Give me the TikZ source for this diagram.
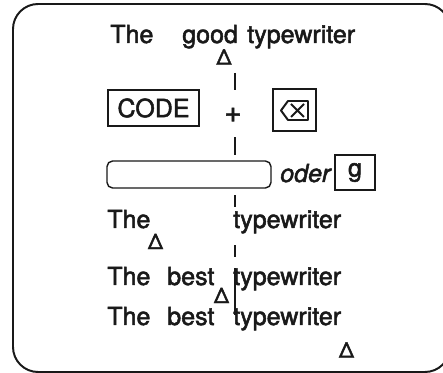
\documentclass[tikz,border=0pt]{standalone}
\usepackage{fontspec}
\setmainfont{TeX Gyre Heros}[UprightFeatures={FakeBold=2}, ItalicFeatures={FakeBold=2}]
\usetikzlibrary{positioning}
\definecolor{inkgray}{RGB}{25,25,25}
\tikzset{
  word/.style={anchor=base west, inner sep=0pt, text=inkgray,
    font=\fontsize{17.8}{20}\selectfont},
  delta/.style={inner sep=0pt, text=inkgray, font=\fontsize{15}{16}\selectfont},
  keybox/.style={draw=inkgray, line width=1pt, inner sep=0pt, text=inkgray,
    font=\fontsize{17.8}{20}\selectfont},
  slot/.style={draw=inkgray, line width=1pt, rounded corners=4pt, inner sep=0pt},
  guide/.style={draw=inkgray, line width=0.9pt,
    dash pattern=on 12.09pt off 33.43pt on 12.8pt off 28.45pt on 8.54pt off 27.03pt on 8.54pt off 7.82pt on 33.43pt off 20pt},
  frame/.style={draw=inkgray, line width=1.4pt, rounded corners=17.8pt}
}
\begin{document}
\begin{tikzpicture}[x=0.025cm, y=-0.025cm]
  \useasboundingbox (0,0) rectangle (443,373);
  \draw[frame] (13,4) rectangle (450,372);

  % cursor column
  \coordinate (top) at (235,73);
  \coordinate (bot) at (235,315);
  \draw[guide] (top) -- (bot);

  % line 1
  \node[word] (the1) at (110,43) {The};
  \node[word] (good1) at (182,43) {good};
  \node[word] (type1) at (247,43) {typewriter};
  \node[delta] (d1) at (224,57) {Δ};

  % keys
  \node[keybox, minimum width=2.275cm, minimum height=0.9cm] (code) at (153.5,108) {CODE};
  \node[word, anchor=center, font=\fontsize{21}{22}\selectfont] (plus) at (233,115) {+};
  \node[keybox, minimum width=1.075cm, minimum height=1.05cm] (key) at (294.5,110) {};
  \begin{scope}[shift={(key.center)}, line width=1.4pt, draw=inkgray]
    \draw[line join=round] (-13.5,0.5) -- (-6.5,-9) -- (13.5,-9) -- (13.5,10) -- (-6.5,10) -- cycle;
    \draw (-3.5,-6) -- (9.5,7) (-3.5,7) -- (9.5,-6);
  \end{scope}

  % slot or letter
  \node[slot, minimum width=4.1cm, minimum height=0.675cm] (bar) at (189,174.5) {};
  \node[word, font=\fontsize{17.8}{20}\selectfont\itshape] (oder) at (280,182) {oder};
  \node[keybox, minimum width=1cm, minimum height=0.875cm] (g) at (355,172.5) {\raisebox{-2.5pt}{g}};

  % line 4
  \node[word] (the4) at (107,228) {The};
  \node[delta] (d4) at (155.5,241.5) {Δ};
  \node[word] (type4) at (233,228) {typewriter};

  % line 5
  \node[word] (the5) at (107,285) {The};
  \node[word] (best5) at (167,285) {best};
  \node[delta] (d5) at (221.5,295.5) {Δ};
  \node[word] (type5) at (233,285) {typewriter};

  % line 6
  \node[word] (the6) at (107,325) {The};
  \node[word] (best6) at (167,325) {best};
  \node[word] (type6) at (233,325) {typewriter};
  \node[delta] (d6) at (346.5,350) {Δ};
\end{tikzpicture}
\end{document}
